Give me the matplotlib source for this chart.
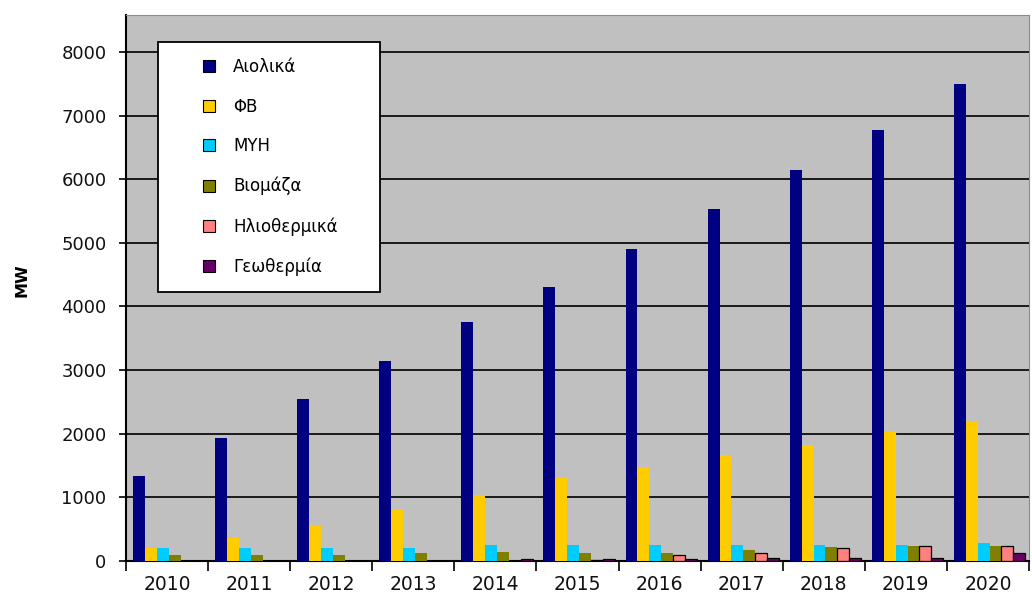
import matplotlib
matplotlib.use("Agg")
import matplotlib.pyplot as plt
from matplotlib.lines import Line2D
import numpy as np

years = ['2010', '2011', '2012', '2013', '2014', '2015', '2016', '2017', '2018', '2019', '2020']
series_names = ['Αιολικά', 'ΦΒ', 'ΜΥΗ', 'Βιομάζα', 'Ηλιοθερμικά', 'Γεωθερμία']
series_colors = ['#000080', '#FFCC00', '#00CCFF', '#808000', '#FF8080', '#660066']

aiolika = [1340, 1940, 2550, 3150, 3750, 4300, 4900, 5530, 6150, 6780, 7500]
fv = [210, 360, 550, 820, 1040, 1300, 1480, 1670, 1820, 2050, 2200]
myh = [210, 210, 210, 210, 250, 250, 250, 250, 250, 250, 280]
viomaza = [90, 90, 90, 120, 140, 130, 130, 180, 220, 230, 240]
iliothermika = [0, 0, 0, 0, 0, 20, 100, 120, 200, 240, 240]
geothermia = [0, 0, 0, 0, 30, 30, 30, 40, 40, 40, 120]

data = [aiolika, fv, myh, viomaza, iliothermika, geothermia]

fig = plt.figure(figsize=(10.32, 6.05), dpi=100)
ax = fig.add_axes([126/1032, 1 - 561/605, (1029-126)/1032, (561-15)/605])
ax.set_facecolor('#C0C0C0')

x = np.arange(len(years))
w = 0.145
for i, (vals, c) in enumerate(zip(data, series_colors)):
    vals = np.array(vals, dtype=float)
    keep = vals > 0   # zero values draw nothing
    xpos = x[keep] + (i - 2.5) * w + 0.02
    # only the small pink/purple bars show a visible outline in the original
    if i >= 4:
        ax.bar(xpos, vals[keep], w, color=c, edgecolor='black', linewidth=0.9, zorder=3)
    else:
        ax.bar(xpos, vals[keep], w, color=c, linewidth=0, zorder=3)

ax.set_xlim(-0.5, len(years) - 0.5)
ax.set_ylim(0, 8580)
ax.set_yticks(np.arange(0, 8001, 1000))
ax.yaxis.grid(True, color='#1a1a1a', linewidth=1.4, zorder=1)
ax.set_axisbelow(True)

# ticks at category boundaries, labels at centres
ax.set_xticks(np.arange(-0.5, len(years), 1.0))
ax.set_xticklabels([])
ax.set_xticks(x, minor=True)
ax.set_xticklabels(years, minor=True, fontsize=13.5, color='#111111')
ax.tick_params(axis='x', which='major', length=7, width=1.2, direction='out', color='black')
ax.tick_params(axis='x', which='minor', length=0, pad=10)
ax.tick_params(axis='y', length=5, width=1.2, direction='out', pad=9, labelsize=13, labelcolor='#111111')

ax.spines['left'].set_color('black')
ax.spines['left'].set_linewidth(1.5)
ax.spines['bottom'].set_color('black')
ax.spines['bottom'].set_linewidth(1.5)
ax.spines['top'].set_color('#8c8c8c')
ax.spines['right'].set_color('#8c8c8c')

fig.text(22/1032, 1 - 280/605, 'MW', rotation=90, fontsize=11.5, fontweight='bold',
         ha='center', va='center')

handles = [Line2D([], [], linestyle='none', marker='s', markersize=8.5,
                  markerfacecolor=c, markeredgecolor='black', markeredgewidth=0.8)
           for c in series_colors]
leg = ax.legend(handles, series_names, loc='upper left', mode='expand',
                bbox_to_anchor=(158/1032, 1 - 288/605, (380-158)/1032, (288-42)/605),
                bbox_transform=fig.transFigure, fontsize=12, frameon=True, fancybox=False,
                borderpad=0.95, labelspacing=1.3, handlelength=4.2, handletextpad=-0.65,
                borderaxespad=0)
leg.get_frame().set_edgecolor('black')
leg.get_frame().set_linewidth(1.3)
leg.get_frame().set_facecolor('white')
leg.get_frame().set_alpha(1)
leg.set_zorder(5)

fig.savefig('out.png', dpi=100)
